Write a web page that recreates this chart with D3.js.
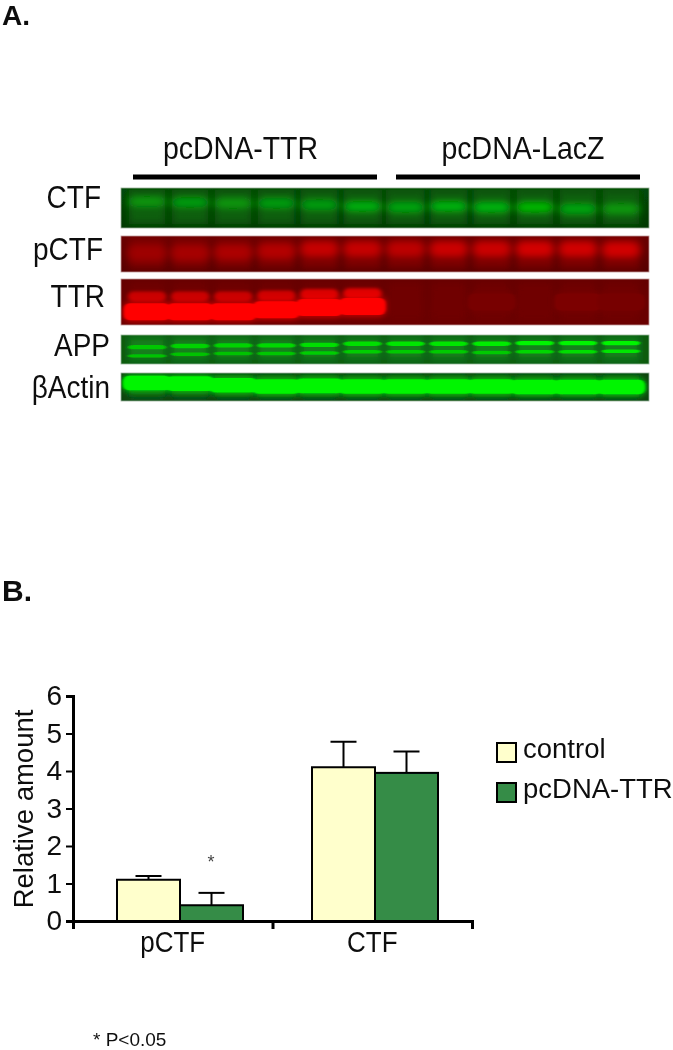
<!DOCTYPE html>
<html>
<head>
<meta charset="utf-8">
<script src="https://cdn.jsdelivr.net/npm/d3@7"></script>
<style>
  html, body { margin: 0; padding: 0; background: #fff; }
  svg { display: block; }
  text { font-family: "Liberation Sans", Arial, sans-serif; fill: #111; }
</style>
</head>
<body>
<div id="chart"></div>
<script>
// blot rows, top to bottom
var blotRows = ["CTF", "pCTF", "TTR", "APP", "βActin"];
var lanes = d3.range(12);
var groups = ["pcDNA-TTR", "pcDNA-LacZ"];

// band intensity per lane, 0 (background) to 1 (saturated)
var ctfBand = [0.38, 0.42, 0.38, 0.42, 0.42, 0.55, 0.48, 0.58, 0.58, 0.6, 0.48, 0.4];
var pctfBand = [0.3, 0.36, 0.4, 0.45, 0.58, 0.58, 0.52, 0.62, 0.62, 0.68, 0.66, 0.66];
var ttrMain = [1, 1, 1, 1, 1, 1, 0, 0, 0.03, 0, 0.06, 0.02];
var ttrUpper = [0.62, 0.62, 0.62, 0.66, 0.74, 0.78, 0, 0, 0, 0, 0, 0];
var appUpper = [0.7, 0.78, 0.78, 0.82, 0.86, 0.86, 0.9, 0.9, 0.94, 1, 1, 1];
var appLower = [0.68, 0.68, 0.68, 0.7, 0.75, 0.75, 0.72, 0.72, 0.72, 0.8, 0.85, 0.9];
var actinBand = [1, 1, 1, 1, 1, 1, 1, 1, 1, 1, 1, 1];

// how far each band ran, as a share of the row from top (0) to bottom (1)
var ctfRun = [0.34, 0.36, 0.38, 0.38, 0.42, 0.46, 0.48, 0.46, 0.48, 0.48, 0.52, 0.52];
var pctfRun = [0.47, 0.47, 0.45, 0.42, 0.36, 0.36, 0.36, 0.36, 0.36, 0.36, 0.36, 0.38];
var ttrMainRun = [0.71, 0.71, 0.71, 0.67, 0.62, 0.6, 0.5, 0.5, 0.5, 0.5, 0.5, 0.5];
var ttrUpperRun = [0.38, 0.38, 0.38, 0.36, 0.33, 0.31, 0.3, 0.3, 0.3, 0.3, 0.3, 0.3];
var appUpperRun = [0.42, 0.38, 0.36, 0.36, 0.34, 0.3, 0.3, 0.3, 0.3, 0.28, 0.28, 0.28];
var appLowerRun = [0.72, 0.66, 0.64, 0.64, 0.62, 0.58, 0.58, 0.58, 0.6, 0.58, 0.58, 0.56];
var actinRun = [0.36, 0.38, 0.44, 0.48, 0.46, 0.48, 0.48, 0.48, 0.48, 0.5, 0.5, 0.5];

// bar chart values
var categories = ["pCTF", "CTF"];
var series = ["control", "pcDNA-TTR"];
var controlValues = [1.1, 4.1];
var ttrValues = [0.42, 3.95];
var controlErrors = [0.1, 0.68];
var ttrErrors = [0.33, 0.57];
var yTicks = [0, 1, 2, 3, 4, 5, 6];

var width = 673, height = 1050;

var svgRoot = d3.select("#chart").append("svg")
    .attr("width", width)
    .attr("height", height);

var defs = svgRoot.append("defs");
function addBlur(id, amount) {
  defs.append("filter").attr("id", id)
      .attr("filterUnits", "userSpaceOnUse")
      .attr("x", 0).attr("y", 0).attr("width", width).attr("height", height)
    .append("feGaussianBlur").attr("stdDeviation", amount);
}
addBlur("blurHaze", "3.5 5");
addBlur("blurSoft", "4 3.2");
addBlur("blurMid", "2.2 1.4");
addBlur("blurTight", "1.6 0.7");
addBlur("blurGlow", "3 2.5");
addBlur("blurAll", "0.4");

// the whole figure is a little soft, it is a scan
var svg = svgRoot.append("g").attr("filter", "url(#blurAll)");
svg.append("rect").attr("width", width).attr("height", height).attr("fill", "#fff");

// ---- panel labels
svg.append("text").attr("x", 2).attr("y", 25).style("font-size", "28px").style("font-weight", "bold").text("A.");
svg.append("text").attr("x", 2).attr("y", 601).style("font-size", "30px").style("font-weight", "bold").text("B.");

// ---- panel A, the blot
var blotX = d3.scaleBand().domain(lanes).range([125.5, 642.5]).paddingInner(0.15).paddingOuter(0.075);

var rowY = d3.scaleOrdinal().domain(blotRows).range([188, 236, 279, 335, 373]);
var rowH = d3.scaleOrdinal().domain(blotRows).range([40, 36, 46, 29, 28]);
var rowBaseline = d3.scaleOrdinal().domain(blotRows).range([208, 260, 307, 356, 398]);
var rowLabelEnd = d3.scaleOrdinal().domain(blotRows).range([101, 103, 105, 110, 110]);
var rowTop = d3.scaleOrdinal().domain(blotRows).range(["#064a08", "#6a0000", "#640000", "#0a5a10", "#0a4410"]);
var rowBottom = d3.scaleOrdinal().domain(blotRows).range(["#033803", "#560000", "#6a0000", "#0a5a10", "#0a4410"]);
var rowHaze = d3.scaleOrdinal().domain(blotRows).range(["#0a5f0c", "#800000", "#700000", "#12801c", "#0e6a14"]);
var rowEdge = d3.scaleOrdinal().domain(blotRows).range(["#9ab09a", "#c09a9a", "#c09a9a", "#9ab89a", "#9ab09a"]);

var greenBand = d3.scaleLinear().domain([0, 1]).range(["#0b5a10", "#00f500"]);
var redBand = d3.scaleLinear().domain([0, 1]).range(["#740000", "#ff0000"]);
var run = d3.scaleLinear().domain([0, 1]);

var grads = defs.selectAll("linearGradient").data(blotRows).enter().append("linearGradient")
    .attr("id", function(d, i) { return "rowGrad" + i; })
    .attr("x1", 0).attr("x2", 0).attr("y1", 0).attr("y2", 1);
grads.append("stop").attr("offset", "0%").attr("stop-color", function(d) { return rowTop(d); });
grads.append("stop").attr("offset", "100%").attr("stop-color", function(d) { return rowBottom(d); });

defs.selectAll("clipPath").data(blotRows).enter().append("clipPath")
    .attr("id", function(d, i) { return "rowClip" + i; })
  .append("rect")
    .attr("x", 121).attr("width", 528)
    .attr("y", function(d) { return rowY(d); })
    .attr("height", function(d) { return rowH(d); });

var rows = svg.append("g").selectAll("g").data(blotRows).enter().append("g")
    .attr("clip-path", function(d, i) { return "url(#rowClip" + i + ")"; });

rows.append("rect")
    .attr("x", 121).attr("width", 528)
    .attr("y", function(d) { return rowY(d); })
    .attr("height", function(d) { return rowH(d); })
    .attr("fill", function(d, i) { return "url(#rowGrad" + i + ")"; });

// lighter haze down each lane, leaves the gaps between lanes dark
rows.append("g")
    .attr("filter", "url(#blurHaze)")
  .selectAll("rect").data(function(r) { return lanes.map(function(l) { return {row: r, lane: l}; }); })
  .enter().append("rect")
    .attr("x", function(d) { return blotX(d.lane); })
    .attr("width", blotX.bandwidth())
    .attr("y", function(d) { return rowY(d.row) + 2; })
    .attr("height", function(d) { return rowH(d.row) - 6; })
    .attr("fill", function(d) { return rowHaze(d.row); });

// each band: row, intensities, run, thickness as share of the row, colour scale, blur
var bands = [
  {row: "CTF", values: ctfBand, runs: ctfRun, size: 0.26, color: greenBand, filter: "blurSoft", spread: 0},
  {row: "pCTF", values: pctfBand, runs: pctfRun, size: 0.42, color: redBand, filter: "blurSoft", spread: 0},
  {row: "TTR", values: ttrUpper, runs: ttrUpperRun, size: 0.22, color: redBand, filter: "blurMid", spread: 1},
  {row: "TTR", values: ttrMain, runs: ttrMainRun, size: 0.37, color: redBand, filter: "blurTight", spread: 5, glow: true},
  {row: "APP", values: appUpper, runs: appUpperRun, size: 0.15, color: greenBand, filter: "blurTight", spread: 1},
  {row: "APP", values: appLower, runs: appLowerRun, size: 0.12, color: greenBand, filter: "blurTight", spread: 1},
  {row: "βActin", values: actinBand, runs: actinRun, size: 0.52, color: greenBand, filter: "blurTight", spread: 6, glow: true}
];

function drawBands(b, filter, grow, opacity) {
  var top = rowY(b.row), h = rowH(b.row);
  run.range([top, top + h]);
  svg.append("g")
      .attr("clip-path", "url(#rowClip" + blotRows.indexOf(b.row) + ")")
    .append("g")
      .attr("filter", "url(#" + filter + ")")
      .attr("opacity", opacity)
    .selectAll("rect").data(b.values).enter().append("rect")
      .attr("x", function(d, i) { return blotX(i) - b.spread; })
      .attr("width", blotX.bandwidth() + b.spread * 2)
      .attr("y", function(d, i) { return run(b.runs[i]) - h * b.size / 2 - grow; })
      .attr("height", h * b.size + grow * 2)
      .attr("rx", 6)
      .attr("fill", function(d) { return b.color(d); })
      .attr("display", function(d) { return d == 0 ? "none" : null; });
}
bands.forEach(function(b) {
  if (b.glow) drawBands(b, "blurGlow", 2, 0.55);
  drawBands(b, b.filter, 0, 1);
});

svg.append("g").selectAll("rect").data(blotRows).enter().append("rect")
    .attr("x", 121).attr("width", 528)
    .attr("y", function(d) { return rowY(d); })
    .attr("height", function(d) { return rowH(d); })
    .attr("fill", "none")
    .attr("stroke", function(d) { return rowEdge(d); })
    .attr("stroke-width", 0.8);

// row labels in the original are a bit taller than wide
svg.append("g").selectAll("text").data(blotRows).enter().append("text")
    .attr("transform", function(d) { return "translate(" + rowLabelEnd(d) + "," + rowBaseline(d) + ") scale(1,1.15)"; })
    .attr("text-anchor", "end")
    .style("font-size", "28px")
    .text(function(d) { return d; });

// group headers and their rules
var groupLeft = d3.scaleOrdinal().domain(groups).range([133, 396]);
var groupRight = d3.scaleOrdinal().domain(groups).range([377, 640]);
var groupLabel = d3.scaleOrdinal().domain(groups).range([240.5, 523]);
svg.append("g").selectAll("line").data(groups).enter().append("line")
    .attr("x1", function(d) { return groupLeft(d); })
    .attr("x2", function(d) { return groupRight(d); })
    .attr("y1", 177).attr("y2", 177)
    .attr("stroke", "#000").attr("stroke-width", 5);
svg.append("g").selectAll("text").data(groups).enter().append("text")
    .attr("transform", function(d) { return "translate(" + groupLabel(d) + ",159) scale(1,1.1)"; })
    .attr("text-anchor", "middle")
    .style("font-size", "28.5px")
    .text(function(d) { return d; });

// ---- panel B, the bars
var y = d3.scaleLinear().domain([0, 6]).range([921, 696]);
var xEdges = d3.scaleLinear().domain([0, categories.length]).range([73, 472]);
var xLabel = d3.scaleBand().domain(categories).range([73, 472]);
var xGroup = d3.scaleBand().domain(categories).range([82.5, 472.5]);
var barW = 63;

var barData = [];
categories.forEach(function(c, i) {
  barData.push({cat: c, name: series[0], value: controlValues[i], err: controlErrors[i]});
  barData.push({cat: c, name: series[1], value: ttrValues[i], err: ttrErrors[i]});
});
var barX = function(d) {
  return xGroup(d.cat) + xGroup.bandwidth() / 2 + (d.name == series[0] ? -barW : 0);
};
var color = d3.scaleOrdinal().domain(series).range(["#ffffcc", "#348c47"]);

// error bars go first so the bar outline sits over the stem
var errs = svg.append("g").selectAll("g").data(barData).enter().append("g")
    .attr("stroke", "#000").attr("stroke-width", 2);
errs.append("line")
    .attr("x1", function(d) { return barX(d) + barW / 2; })
    .attr("x2", function(d) { return barX(d) + barW / 2; })
    .attr("y1", function(d) { return y(d.value); })
    .attr("y2", function(d) { return y(d.value + d.err); });
errs.append("line")
    .attr("x1", function(d) { return barX(d) + barW / 2 - 13; })
    .attr("x2", function(d) { return barX(d) + barW / 2 + 13; })
    .attr("y1", function(d) { return y(d.value + d.err); })
    .attr("y2", function(d) { return y(d.value + d.err); });

svg.append("g").selectAll("rect").data(barData).enter().append("rect")
    .attr("x", barX)
    .attr("y", function(d) { return y(d.value); })
    .attr("width", barW)
    .attr("height", function(d) { return y(0) - y(d.value); })
    .attr("fill", function(d) { return color(d.name); })
    .attr("stroke", "#000")
    .attr("stroke-width", 2);

var yAxis = svg.append("g")
    .attr("transform", "translate(73,0)")
    .call(d3.axisLeft(y).tickValues(yTicks).tickSize(7).tickPadding(4).tickFormat(d3.format("d")));
yAxis.selectAll("text").style("font-size", "28px");
yAxis.selectAll("line").attr("stroke", "#000").attr("stroke-width", 2);
yAxis.select(".domain").attr("stroke", "#000").attr("stroke-width", 3);

var xAxis = svg.append("g")
    .attr("transform", "translate(0,921)")
    .call(d3.axisBottom(xEdges).tickValues([0, 1, 2]).tickSize(8).tickFormat(""));
xAxis.selectAll("line").attr("stroke", "#000").attr("stroke-width", 3);
xAxis.select(".domain").attr("stroke", "#000").attr("stroke-width", 3);

svg.append("g").selectAll("text").data(categories).enter().append("text")
    .attr("transform", function(d) { return "translate(" + (xLabel(d) + xLabel.bandwidth() / 2) + ",952) scale(1,1.1)"; })
    .attr("text-anchor", "middle")
    .style("font-size", "26px")
    .text(function(d) { return d; });

svg.append("text")
    .attr("transform", "translate(33,809) rotate(-90)")
    .attr("text-anchor", "middle")
    .style("font-size", "27.5px")
    .text("Relative amount");

svg.append("text")
    .attr("x", 211).attr("y", 868)
    .attr("text-anchor", "middle")
    .style("font-size", "18px")
    .style("fill", "#444")
    .text("*");

// legend
var legendY = d3.scaleOrdinal().domain(series).range([743, 783]);
var legend = svg.append("g").selectAll("g").data(series).enter().append("g");
legend.append("rect")
    .attr("x", 497).attr("width", 19)
    .attr("y", function(d) { return legendY(d); })
    .attr("height", 19)
    .attr("fill", function(d) { return color(d); })
    .attr("stroke", "#000").attr("stroke-width", 2);
legend.append("text")
    .attr("x", 523)
    .attr("y", function(d) { return legendY(d) + 15; })
    .style("font-size", "27.5px")
    .text(function(d) { return d; });

svg.append("text")
    .attr("x", 93).attr("y", 1045.5)
    .style("font-size", "19px")
    .text("* P<0.05");
</script>
</body>
</html>
